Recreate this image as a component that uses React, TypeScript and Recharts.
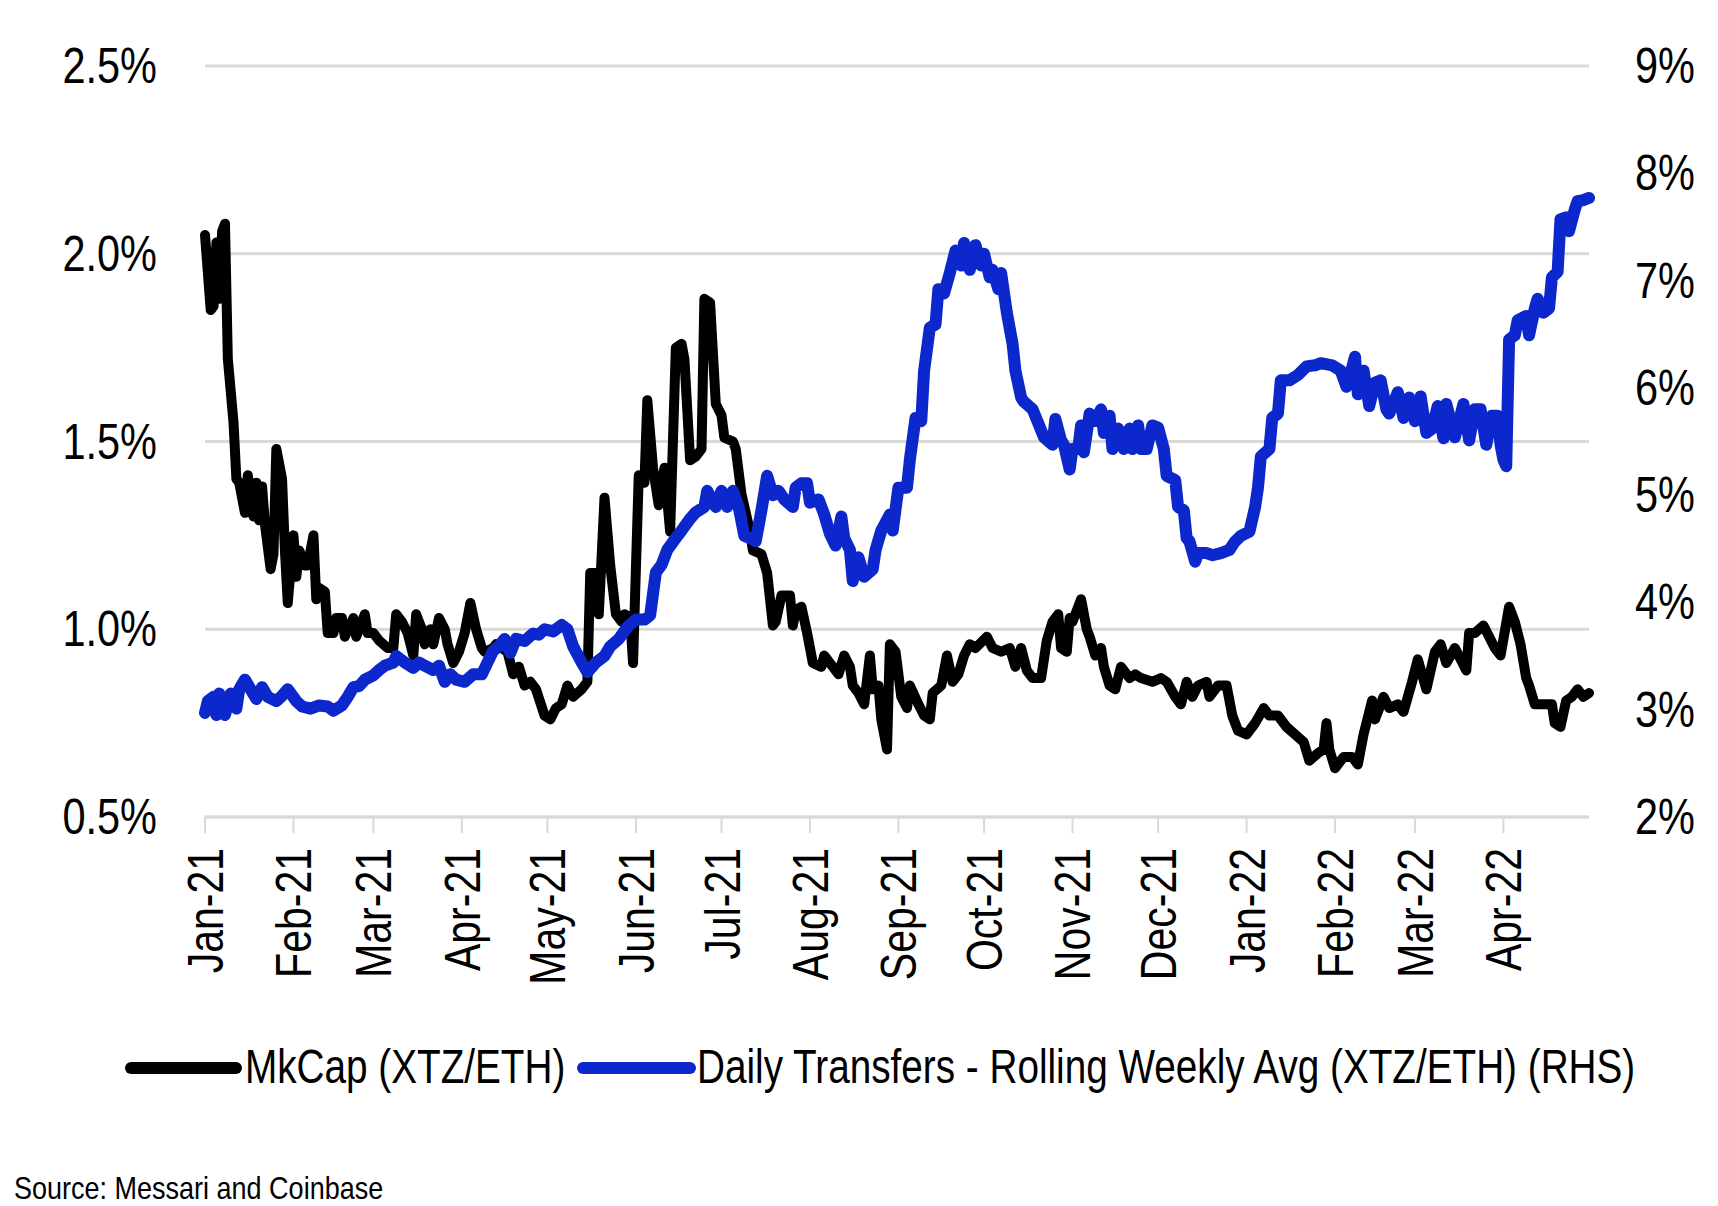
import React from 'react';
import { LineChart, Line, XAxis, YAxis, CartesianGrid, Legend } from 'recharts';

// days since 1 Jan 2021 for each month start shown on the axis
const monthTicks = [0, 31, 59, 90, 120, 151, 181, 212, 243, 273, 304, 334, 365, 396, 424, 455];
const monthLabels = [
  'Jan-21', 'Feb-21', 'Mar-21', 'Apr-21', 'May-21', 'Jun-21', 'Jul-21', 'Aug-21',
  'Sep-21', 'Oct-21', 'Nov-21', 'Dec-21', 'Jan-22', 'Feb-22', 'Mar-22', 'Apr-22',
];

const leftTicks = [0.5, 1.0, 1.5, 2.0, 2.5];
const rightTicks = [2, 3, 4, 5, 6, 7, 8, 9];

// MkCap (XTZ/ETH), % (LHS)
const mkcapDays = [
  0, 1, 2, 3, 4, 5, 6, 7, 8, 10, 11, 12, 14, 15, 17, 18, 19, 20, 21, 23, 24, 25, 27, 28, 29,
  31, 32, 33, 35, 36, 38, 39, 40, 42, 43, 45, 46, 48, 49, 52, 53, 56, 57, 59, 61, 64, 66, 67,
  69, 71, 73, 74, 76, 77, 79, 80, 82, 84, 85, 87, 89, 91, 93, 95, 97, 98, 101, 102, 106, 108,
  110, 112, 114, 116, 119, 121, 123, 125, 127, 129, 132, 134, 135, 137, 138, 140, 142, 144,
  146, 147, 149, 150, 152, 154, 155, 157, 159, 161, 163, 165, 167, 168, 170, 172, 174, 175,
  177, 179, 181, 182, 185, 186, 188, 191, 192, 195, 197, 199, 200, 202, 205, 206, 207, 209,
  211, 213, 216, 217, 220, 222, 224, 226, 227, 229, 231, 233, 234, 236, 237, 239, 240, 242,
  244, 246, 247, 250, 252, 254, 255, 258, 260, 262, 264, 266, 268, 270, 274, 276, 279, 282,
  284, 286, 288, 290, 293, 295, 297, 299, 300, 302, 303, 304, 306, 307, 309, 310, 312, 314,
  315, 317, 319, 321, 324, 326, 328, 332, 335, 337, 340, 342, 344, 346, 348, 351, 352, 355,
  358, 360, 362, 365, 368, 371, 373, 376, 379, 382, 385, 387, 390, 392, 393, 394, 396, 399,
  402, 404, 406, 409, 410, 413, 415, 418, 420, 423, 425, 428, 431, 433, 435, 438, 440, 442,
  443, 445, 448, 450, 452, 454, 457, 459, 461, 463, 464, 466, 469, 472, 473, 475, 477, 479,
  481, 483, 485,
];
const mkcapValues = [
  2.05, 1.95, 1.85, 1.86, 2.03, 1.88, 2.06, 2.08, 1.72, 1.55, 1.40, 1.39, 1.31, 1.41, 1.30,
  1.39, 1.29, 1.38, 1.28, 1.16, 1.20, 1.48, 1.40, 1.21, 1.07, 1.25, 1.14, 1.21, 1.17, 1.17,
  1.25, 1.08, 1.11, 1.10, 0.99, 0.99, 1.03, 1.03, 0.98, 1.03, 0.98, 1.04, 0.99, 0.99, 0.97,
  0.95, 0.95, 1.04, 1.02, 0.99, 0.93, 1.04, 1.00, 0.96, 1.00, 0.96, 1.03, 1.00, 0.96, 0.91,
  0.94, 0.99, 1.07, 1.00, 0.95, 0.94, 0.95, 0.96, 0.94, 0.88, 0.90, 0.85, 0.86, 0.84, 0.77,
  0.76, 0.79, 0.80, 0.85, 0.82, 0.84, 0.86, 1.15, 1.15, 1.04, 1.35, 1.17, 1.04, 1.02, 1.04,
  1.03, 0.91, 1.41, 1.39, 1.61, 1.43, 1.33, 1.43, 1.26, 1.75, 1.76, 1.72, 1.45, 1.46, 1.48,
  1.88, 1.87, 1.60, 1.57, 1.51, 1.50, 1.48, 1.36, 1.26, 1.21, 1.20, 1.15, 1.01, 1.02, 1.09,
  1.09, 1.01, 1.05, 1.06, 0.99, 0.91, 0.90, 0.93, 0.90, 0.88, 0.93, 0.90, 0.85, 0.83, 0.80,
  0.93, 0.84, 0.85, 0.76, 0.68, 0.96, 0.94, 0.82, 0.79, 0.85, 0.80, 0.77, 0.76, 0.83, 0.85,
  0.93, 0.86, 0.88, 0.93, 0.96, 0.95, 0.98, 0.95, 0.94, 0.95, 0.90, 0.95, 0.89, 0.87, 0.87,
  0.97, 1.02, 1.04, 0.95, 0.94, 1.03, 1.02, 1.06, 1.08, 1.00, 0.98, 0.93, 0.95, 0.90, 0.85,
  0.84, 0.90, 0.87, 0.88, 0.87, 0.86, 0.87, 0.86, 0.82, 0.80, 0.86, 0.82, 0.85, 0.86, 0.82,
  0.85, 0.85, 0.77, 0.73, 0.72, 0.75, 0.79, 0.77, 0.77, 0.74, 0.72, 0.70, 0.65, 0.67, 0.68,
  0.75, 0.68, 0.63, 0.66, 0.66, 0.64, 0.72, 0.81, 0.76, 0.82, 0.79, 0.80, 0.78, 0.86, 0.92,
  0.84, 0.94, 0.96, 0.91, 0.95, 0.92, 0.89, 0.99, 0.99, 1.01, 0.98, 0.95, 0.93, 1.06, 1.02,
  0.96, 0.87, 0.85, 0.80, 0.80, 0.80, 0.75, 0.74, 0.81, 0.82, 0.84, 0.82, 0.83,
];

// Daily Transfers - Rolling Weekly Avg (XTZ/ETH), % (RHS)
const transferDays = [
  0, 1, 3, 4, 5, 7, 9, 11, 12, 14, 16, 18, 20, 22, 25, 27, 29, 32, 34, 37, 40, 43, 45, 48, 50,
  52, 54, 56, 59, 61, 63, 66, 67, 70, 73, 75, 77, 80, 82, 84, 86, 88, 91, 94, 97, 99, 101,
  103, 105, 107, 109, 112, 115, 117, 119, 122, 125, 127, 129, 132, 134, 137, 140, 142, 145,
  148, 151, 154, 156, 158, 160, 162, 165, 167, 170, 172, 175, 176, 179, 181, 183, 185, 187,
  189, 191, 193, 195, 197, 199, 201, 203, 206, 207, 209, 211, 212, 215, 217, 219, 221, 223,
  224, 226, 227, 229, 231, 234, 235, 237, 240, 241, 243, 246, 247, 249, 251, 252, 254, 256,
  257, 259, 261, 263, 265, 266, 268, 270, 272, 273, 275, 276, 278, 279, 281, 283, 284, 286,
  287, 290, 292, 294, 297, 298, 300, 301, 303, 304, 306, 307, 308, 310, 312, 314, 315, 317,
  318, 320, 322, 324, 325, 327, 328, 330, 332, 334, 336, 337, 340, 341, 343, 344, 345, 347,
  348, 351, 353, 356, 359, 361, 363, 366, 368, 369, 370, 373, 374, 376, 377, 380, 383, 386,
  389, 391, 395, 398, 400, 401, 403, 404, 406, 408, 410, 412, 414, 415, 418, 420, 422, 424,
  426, 428, 430, 432, 434, 435, 438, 441, 443, 445, 447, 449, 451, 453, 454, 455, 456, 457,
  459, 460, 463, 464, 466, 467, 469, 471, 472, 474, 475, 477, 478, 480, 481, 483, 485,
];
const transferValues = [
  2.97, 3.08, 3.12, 2.95, 3.15, 2.95, 3.15, 3.01, 3.19, 3.28, 3.19, 3.10, 3.21, 3.12, 3.08,
  3.13, 3.19, 3.08, 3.03, 3.01, 3.04, 3.03, 2.99, 3.04, 3.12, 3.21, 3.22, 3.28, 3.32, 3.37,
  3.41, 3.44, 3.50, 3.44, 3.39, 3.44, 3.41, 3.37, 3.41, 3.26, 3.33, 3.28, 3.26, 3.33, 3.33,
  3.44, 3.55, 3.59, 3.66, 3.53, 3.66, 3.64, 3.71, 3.70, 3.75, 3.73, 3.79, 3.75, 3.59, 3.44,
  3.35, 3.44, 3.50, 3.59, 3.66, 3.77, 3.84, 3.84, 3.88, 4.28, 4.35, 4.49, 4.60, 4.67, 4.78,
  4.84, 4.89, 5.04, 4.89, 5.04, 4.89, 5.04, 4.89, 4.62, 4.60, 4.57, 4.86, 5.18, 5.00, 5.04,
  4.96, 4.89, 5.07, 5.11, 5.11, 4.93, 4.96, 4.82, 4.64, 4.53, 4.80, 4.60, 4.49, 4.20, 4.42,
  4.24, 4.31, 4.49, 4.67, 4.82, 4.67, 5.07, 5.07, 5.33, 5.72, 5.69, 6.16, 6.56, 6.59, 6.92,
  6.88, 7.07, 7.28, 7.14, 7.35, 7.10, 7.33, 7.14, 7.25, 7.03, 7.10, 6.92, 7.07, 6.70, 6.41,
  6.16, 5.91, 5.87, 5.80, 5.67, 5.54, 5.47, 5.71, 5.51, 5.47, 5.24, 5.43, 5.43, 5.65, 5.40,
  5.76, 5.69, 5.80, 5.58, 5.74, 5.43, 5.62, 5.43, 5.62, 5.43, 5.65, 5.43, 5.43, 5.65, 5.63,
  5.43, 5.18, 5.14, 4.89, 4.86, 4.60, 4.57, 4.38, 4.46, 4.46, 4.44, 4.46, 4.49, 4.57, 4.62,
  4.66, 4.89, 5.07, 5.36, 5.43, 5.72, 5.76, 6.07, 6.07, 6.12, 6.20, 6.21, 6.23, 6.21, 6.16,
  6.01, 6.09, 6.29, 5.94, 6.16, 5.83, 6.05, 6.07, 5.80, 5.76, 5.96, 5.72, 5.91, 5.69, 5.92,
  5.58, 5.62, 5.83, 5.53, 5.85, 5.54, 5.85, 5.51, 5.80, 5.80, 5.47, 5.74, 5.74, 5.47, 5.33,
  5.27, 6.45, 6.49, 6.63, 6.67, 6.49, 6.74, 6.83, 6.70, 6.74, 7.03, 7.08, 7.57, 7.59, 7.46,
  7.66, 7.74, 7.75, 7.77,
];

const mkcapData = mkcapDays.map((day, i) => ({ day, mkcap: mkcapValues[i] }));
const transferData = transferDays.map((day, i) => ({ day, transfers: transferValues[i] }));

const FONT = '"Liberation Sans", Arial, Helvetica, sans-serif';
const BLUE = '#0c27cc';
const GRID = '#d9d9d9';

// heavier series strokes, as in the source chart
const lineCss = `
  .mkcap-line path.recharts-curve { stroke-width: 10px !important; stroke-linejoin: round; stroke-linecap: round; }
  .transfers-line path.recharts-curve { stroke-width: 12px !important; stroke-linejoin: round; stroke-linecap: round; }
`;

const LeftTick = ({ x, y, payload }: any) => (
  <g transform={`translate(${x},${y}) scale(0.83,1)`}>
    <text x={0} y={0} dy={17} textAnchor="end" fontSize={50} fontFamily={FONT} fill="#000">
      {`${Number(payload.value).toFixed(1)}%`}
    </text>
  </g>
);

const RightTick = ({ x, y, payload }: any) => (
  <g transform={`translate(${x},${y}) scale(0.83,1)`}>
    <text x={0} y={0} dy={17} textAnchor="start" fontSize={50} fontFamily={FONT} fill="#000">
      {`${payload.value}%`}
    </text>
  </g>
);

const MonthTick = ({ x, y, payload }: any) => {
  const idx = monthTicks.indexOf(payload.value);
  return (
    <g transform={`translate(${x + 18},${y + 13}) rotate(-90) scale(0.82,1)`}>
      <text x={0} y={0} textAnchor="end" fontSize={50} fontFamily={FONT} fill="#000">
        {monthLabels[idx]}
      </text>
    </g>
  );
};

// legend placement per series
const legendPos: Record<string, { x1: number; x2: number; tx: number }> = {
  mkcap: { x1: 131, x2: 236, tx: 245 },
  transfers: { x1: 583, x2: 690, tx: 697 },
};

const renderLegend = (props: any) => {
  const items = props.payload || [];
  return (
    <svg width={1718} height={60} style={{ display: 'block' }}>
      {items.map((item: any) => {
        const p = legendPos[item.dataKey];
        if (!p) return null;
        return (
          <g key={item.dataKey}>
            <line x1={p.x1} x2={p.x2} y1={32} y2={32} stroke={item.color} strokeWidth={12} strokeLinecap="round" />
            <g transform={`translate(${p.tx},47) scale(0.79,1)`}>
              <text x={0} y={0} fontSize={49} fontFamily={FONT} fill="#000">{item.value}</text>
            </g>
          </g>
        );
      })}
    </svg>
  );
};

export default function App() {
  return (
    <div style={{ position: 'absolute', left: 0, top: 0, width: 1718, height: 1206, background: '#fff', fontFamily: FONT }}>
      <style>{lineCss}</style>
      <LineChart width={1718} height={1206} margin={{ top: 66, right: 0, bottom: 110, left: 0 }}>
        <CartesianGrid yAxisId="left" vertical={false} stroke={GRID} strokeWidth={3} />
        <XAxis
          type="number"
          dataKey="day"
          domain={[0, 485]}
          ticks={monthTicks}
          interval={0}
          height={219}
          axisLine={{ stroke: GRID, strokeWidth: 3 }}
          tickLine={{ stroke: GRID, strokeWidth: 2 }}
          tickSize={16}
          tick={<MonthTick />}
        />
        <YAxis
          yAxisId="left"
          domain={[0.5, 2.5]}
          ticks={leftTicks}
          interval={0}
          width={205}
          axisLine={false}
          tickLine={false}
          tickSize={0}
          tickMargin={48}
          tick={<LeftTick />}
        />
        <YAxis
          yAxisId="right"
          orientation="right"
          domain={[2, 9]}
          ticks={rightTicks}
          interval={0}
          width={129}
          axisLine={false}
          tickLine={false}
          tickSize={0}
          tickMargin={46}
          tick={<RightTick />}
        />
        <Legend verticalAlign="bottom" content={renderLegend} wrapperStyle={{ left: 0, width: 1718, height: 60 }} />
        <Line
          className="mkcap-line"
          yAxisId="left"
          data={mkcapData}
          dataKey="mkcap"
          name="MkCap (XTZ/ETH)"
          type="linear"
          stroke="#000"
          strokeWidth={10}
          dot={false}
          isAnimationActive={false}
        />
        <Line
          className="transfers-line"
          yAxisId="right"
          data={transferData}
          dataKey="transfers"
          name="Daily Transfers - Rolling Weekly Avg (XTZ/ETH) (RHS)"
          type="linear"
          stroke={BLUE}
          strokeWidth={12}
          dot={false}
          isAnimationActive={false}
        />
      </LineChart>
      <div
        style={{
          position: 'absolute',
          left: 14,
          top: 1174,
          fontSize: 27,
          lineHeight: '30px',
          color: '#000',
          transform: 'scaleY(1.15)',
          transformOrigin: 'left center',
          whiteSpace: 'nowrap',
        }}
      >
        Source: Messari and Coinbase
      </div>
    </div>
  );
}
